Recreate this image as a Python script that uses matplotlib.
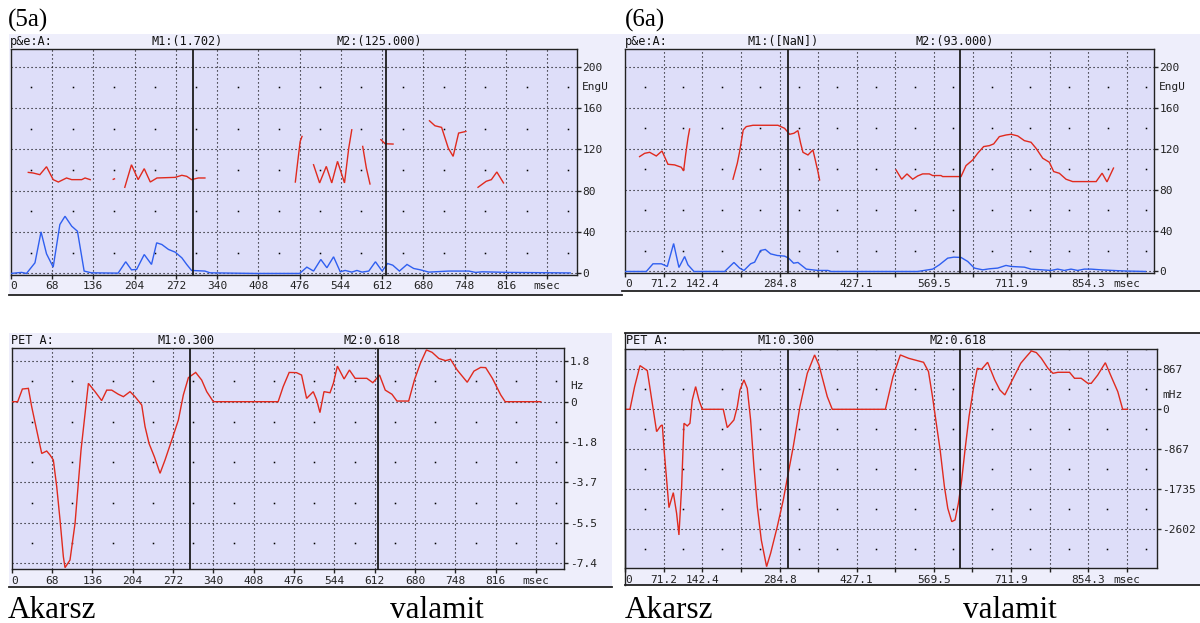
import numpy as np
import matplotlib
matplotlib.use("Agg")
import matplotlib.pyplot as plt
from matplotlib.patches import Rectangle
from matplotlib.lines import Line2D

nan = float('nan')

# ---------------- data (msec / value) ----------------
# Panel 5a top: pitch (red, EngU) and energy (blue)
p1_red_x = [29, 37, 48, 59, 70, 78.5, 92, 100.5, 117, 122.5, 131, nan,
            169, 171, nan,
            188, 199, 210, 220, 230, 241, 271, 282, 290, 298, 309, 320, nan,
            469, 473, 477, 480, nan,
            499, 509, 520, 529, 538.5, 550, 557, 562, nan,
            580, 586, 592, nan,
            610, 617, 630, nan,
            690, 699, 710, 721, 729, 738, 750, nan,
            770, 783.5, 792, 801, 812]
p1_red_y = [97.7, 97.1, 95.5, 103.2, 90.7, 88.4, 92.3, 90.7, 90.7, 92.3, 90.7, nan,
            91, 91.5, nan,
            83.3, 105.1, 90.7, 101.3, 88.4, 92.3, 92.9, 94.9, 93.9, 90.7, 92.3, 92.3, nan,
            88.4, 108.4, 127.7, 132.5, nan,
            105.1, 87.5, 103.5, 87.5, 108.4, 87.5, 121.2, 138.9, nan,
            122.8, 101.9, 86.5, nan,
            129.3, 125.4, 125.1, nan,
            147.6, 142.8, 141.2, 121.2, 113.2, 135.7, 137.3, nan,
            83.3, 89.1, 90.7, 98.1, 87.5]
p1_blue_x = [0, 18, 26, 40, 50, 59, 70, 81, 89.5, 100.5, 110, 121, 133, 177, 189.5,
             199, 207.5, 220, 232, 240.5, 249, 260, 271, 282, 290, 298, 320, 328.5,
             403, 476, 488, 499, 511, 521, 532, 543, 551, 562, 570.5, 579, 590, 601,
             612, 621, 629.5, 640.5, 653, 664, 675, 689, 722, 755, 766, 777, 821, 922]
p1_blue_y = [0, 1, 0, 10.3, 40.2, 19, 6.1, 47.3, 55.3, 45.7, 40.8, 2.3, 0.6, 0.3, 11.3,
             3.5, 3.9, 18.3, 8.7, 29.6, 28, 23.2, 20.6, 15.1, 8.7, 2.9, 2.3, 0.6,
             0, 0, 6.1, 2.3, 13.5, 5.5, 16.1, 1.6, 2.9, 1.3, 2.9, 1.3, 2.3, 11.3,
             2.3, 9.6, 8, 2.3, 8.7, 4.8, 3.5, 1.3, 2.3, 2.3, 1, 1.6, 1, 0.5]

# Panel 6a top
p2_red_x = [26.4, 35.7, 44.9, 57.2, 67.7, 78.7, 91, 103.3, 107.6, 111.3, 115.6, 118.7, nan,
            198.7, 206.7, 211, 217.6, 223.3, 235.6, 281.7, 294, 303.3, 311.2, 318.6, 323.6,
            327.9, 337.1, 346.3, 350.6, 355.5, 358.6, nan,
            499.6, 510.1, 519.9, 530.4, 539.6, 548.8, 561.1, 567.3, 582.7, 585.7, 619.6,
            628.8, 641.1, 650.3, 661.4, 671.9, 679.9, 690.3, 702.6, 712, 724.2, 736.5,
            748.8, 758.1, 770.4, 782.6, 790.6, 801.1, 813.4, 825.7, 869, 880, 889, 901]
p2_red_y = [112.2, 115.4, 116.4, 112.8, 117.7, 104.7, 104.1, 101.8, 98.2, 113.8, 130.1, 139.2, nan,
            90.1, 105.7, 117.1, 138.2, 141.5, 142.8, 142.8, 139.8, 134, 135, 137.6, 125.2,
            116.4, 113.8, 118.7, 109, 97.6, 89.4, nan,
            99.2, 90.1, 95.3, 90.1, 93.3, 95.3, 95.3, 93.7, 93.7, 92.7, 92.7,
            103.4, 108.9, 115.4, 122, 122.9, 124.6, 131.7, 133.3, 134, 132.4, 127.8,
            126.2, 120.3, 110.6, 106.7, 97.6, 95.9, 90.1, 87.8, 87.8, 96, 87.5, 101]
p2_blue_x = [0, 38.8, 51.1, 66.4, 77.5, 89.2, 99, 109.5, 115.6, 126.7, 183.3, 200.5, 211,
             219, 231.3, 238.7, 249.7, 258.4, 268.2, 280.5, 294, 301.4, 310.6, 318.6, 334,
             355.5, 374, 380, 539.6, 567.3, 579.6, 595, 606.3, 619.6, 631.9, 644.2, 659.6,
             671.9, 687.3, 702.6, 712, 736.5, 748.8, 785.7, 798, 810.3, 822.6, 834.9,
             847.2, 859.5, 880, 900, 920, 960]
p2_blue_y = [0, 0, 7.5, 7.5, 4.9, 27.3, 3.9, 14.6, 6.5, 0, 0, 8.8, 3.3,
             1, 7.5, 9.1, 20.5, 21.5, 17.2, 15.6, 15, 13, 8.1, 8.8, 2.3,
             1, 1, 0, 0, 2.3, 6.5, 13, 14, 13.7, 9.8, 3.3, 1.6,
             2.6, 3.3, 5.9, 4.9, 4.2, 2.3, 1, 2.3, 1, 2.3, 1,
             2.3, 2.3, 1.5, 1, 0.5, 0]

# Panel 5a bottom: PET (Hz)
p3_x = [0, 10.1, 18, 28.1, 33.7, 42.1, 50.6, 59, 64.6, 70.2, 75.9, 81.5, 87.1, 89.9, 98.3,
        106.8, 116.9, 129.3, 140.5, 151.7, 160.2, 168.6, 179.8, 188.3, 199.5, 207.9, 219.2,
        224.8, 231.5, 240.5, 250.1, 258.5, 269.8, 281, 289.4, 297.9, 310.2, 320.3, 328.8,
        340, 449.2, 457.7, 467.8, 480.2, 488.7, 497.2, 508.4, 514.1, 519.7, 526.5, 536.7,
        542.3, 549.1, 560.4, 569.4, 579, 598.7, 608.9, 620.2, 629.8, 641.1, 649.5, 669.3,
        678.9, 689, 699.2, 708.8, 720.1, 731.4, 739.8, 751.1, 768, 779.3, 790.6, 799.1,
        810.4, 824.5, 832, 892]
p3_y = [0, 0, 0.58, 0.61, -0.23, -1.30, -2.37, -2.26, -2.44, -2.67, -3.89, -5.42, -7.10, -7.60, -7.25,
        -5.57, -2.21, 0.84, 0.46, 0.05, 0.53, 0.53, 0.34, 0.23, 0.46, 0.23, -0.15,
        -1.14, -1.91, -2.52, -3.28, -2.67, -1.76, -0.84, 0.31, 1.10, 1.34, 0.99, 0.46,
        0, 0, 0.69, 1.34, 1.33, 1.22, 0.15, 0.46, 0.08, -0.50, 0.46, 0.41,
        0.84, 1.63, 1.04, 1.45, 1.07, 1.07, 0.87, 1.22, 0.53, 0.34, 0.03, 0.03,
        0.99, 1.76, 2.37, 2.26, 1.98, 1.88, 1.94, 1.45, 0.89, 1.40, 1.57, 1.56,
        1.07, 0.31, 0, 0]

# Panel 6a bottom: PET (mHz)
p4_x = [0, 8.6, 17.2, 27.1, 34.4, 40.6, 49.8, 57.8, 65.2, 68.3, 71.4, 76.3, 80.6, 88.6, 94.7,
        99, 104, 108.3, 114.4, 119.3, 123.6, 129.8, 135.9, 142.1, 180.8, 188.2, 200.5, 206.7,
        211.6, 219, 225.1, 231.3, 237.4, 243.6, 251, 260.8, 268.2, 280.5, 291.6, 299, 310,
        322.3, 335.9, 349.4, 357.4, 372.8, 382, 480, 494.1, 507.6, 522.9, 550.5, 559.6, 567,
        573.1, 581.1, 589, 595.2, 602.5, 608.6, 614.8, 620.9, 627, 634.4, 643.6, 649.7,
        657.6, 668.7, 681.9, 691.3, 700.5, 712.8, 729.9, 740.3, 749.5, 758.7, 767.9, 780.1,
        789.3, 798.5, 819.9, 829.1, 841.4, 853.6, 860, 872, 886, 897, 909, 918, 927]
p4_y = [0, 0, 493, 949, 891, 840, 130, -485, -362, -340, -848, -1536, -2137, -1811, -2260,
        -2731, -1681, -304, -362, -304, 203, 493, 203, 0, 0, -398, -232, 58,
        420, 638, 456, -232, -1246, -2115, -2840, -3419, -3130, -2550, -1970, -1500, -811,
        58, 782, 1181, 964, 275, 0, 0, 710, 1181, 1108, 1021, 819, 275,
        -232, -884, -1681, -2152, -2441, -2405, -2043, -1536, -884, -159, 529, 891,
        869, 1021, 638, 420, 312, 601, 1000, 1145, 1268, 1232, 1108, 891,
        782, 804, 804, 674, 674, 565, 564, 745, 1012, 708, 383, 0, 0]

markers_ms = [300, 618]

x_labels_a = ['0', '68', '136', '204', '272', '340', '408', '476', '544', '612',
              '680', '748', '816', 'msec']
x_labels_b = ['0', '71.2', '142.4', '', '284.8', '', '427.1', '', '569.5', '',
              '711.9', '', '854.3', 'msec']
y_ticks_eng = [0, 40, 80, 120, 160, 200]
y_labels_eng = ['0', '40', '80', '120', '160', '200']
y_ticks_hz = [1.85, 0, -1.85, -3.7, -5.55, -7.4]
y_labels_hz = ['1.8', '0', '-1.8', '-3.7', '-5.5', '-7.4']
y_ticks_mhz = [867.5, 0, -867.5, -1735, -2602.5]
y_labels_mhz = ['867', '0', '-867', '-1735', '-2602']

# ---------------- styling ----------------
W, H = 1200, 623
PLOT_BG = '#DEDEF9'
FRAME_BG = '#EEEEFB'
RED = '#E02A1E'
BLUE = '#2F5FF0'
MONO = 'DejaVu Sans Mono'
SERIF = 'Liberation Serif'

fig = plt.figure(figsize=(12, 6.23), dpi=100)
fig.patch.set_facecolor('white')


def fx(px):
    return px / W


def fy(py):
    return 1 - py / H


def frame(x0, y0, x1, y1):
    fig.patches.append(Rectangle((fx(x0), fy(y1)), (x1 - x0) / W, (y1 - y0) / H,
                                 transform=fig.transFigure, facecolor=FRAME_BG,
                                 edgecolor='none', zorder=-10))


def hline(x0, x1, y, lw=1.3):
    fig.add_artist(Line2D([fx(x0), fx(x1)], [fy(y), fy(y)], transform=fig.transFigure,
                          color='#222222', lw=lw, zorder=5))


def vline(x, y0, y1, lw=1.0):
    fig.add_artist(Line2D([fx(x), fx(x)], [fy(y0), fy(y1)], transform=fig.transFigure,
                          color='#222222', lw=lw, zorder=5))


def panel(box, xlim, ylim, xstep, xlabels, yticks, ylabels, ystep, unit, unit_y,
          series, header, header_x, header_y):
    l, t, r, b = box
    ax = fig.add_axes([fx(l), fy(b), (r - l) / W, (b - t) / H])
    ax.set_zorder(2)
    ax.set_facecolor(PLOT_BG)
    ax.set_xlim(*xlim)
    ax.set_ylim(*ylim)
    for s in ax.spines.values():
        s.set_color('#222222')
        s.set_linewidth(1.0)
    # dotted grid
    xt = [k * xstep for k in range(len(xlabels))]
    for xv in xt[1:]:
        ax.axvline(xv, color='black', lw=0.8, ls=(0, (1, 2.6)), zorder=1)
    for yv in yticks:
        if ylim[0] < yv < ylim[1]:
            ax.axhline(yv, color='black', lw=0.8, ls=(0, (1, 2.6)), zorder=1)
    # mid-cell dots
    mx = np.arange(xstep / 2, xlim[1], xstep)
    k0 = np.floor(ylim[0] / ystep)
    my = np.array([(k + 0.5) * ystep for k in np.arange(k0, ylim[1] / ystep + 1)])
    my = my[(my > ylim[0]) & (my < ylim[1])]
    gx, gy = np.meshgrid(mx, my)
    ax.plot(gx.ravel(), gy.ravel(), ls='none', marker='s', ms=1.1, mew=0,
            color='black', zorder=1)
    # data
    for xs, ys, c in series:
        ax.plot(xs, ys, color=c, lw=1.0, zorder=3, solid_joinstyle='miter')
    for m in markers_ms:
        ax.axvline(m, color='#1c1c1c', lw=1.3, zorder=4)
    # ticks
    ax.set_xticks(xt)
    labs = ax.set_xticklabels(xlabels, fontfamily=MONO, fontsize=8, color='#222222')
    labs[0].set_horizontalalignment('left')
    ax.tick_params(axis='x', direction='out', length=3, width=1, pad=1.5,
                   color='#222222')
    ax.yaxis.tick_right()
    ax.set_yticks(yticks)
    ax.set_yticklabels(ylabels, fontfamily=MONO, fontsize=8, color='#222222')
    ax.tick_params(axis='y', direction='out', length=3, width=1, pad=1.0,
                   color='#222222')
    ax.annotate(unit, xy=(1, unit_y), xycoords=('axes fraction', 'data'),
                xytext=(4.0, 0), textcoords='offset points', ha='left', va='center',
                fontfamily=MONO, fontsize=8, color='#222222', annotation_clip=False)
    for txt, hx in zip(header, header_x):
        fig.text(fx(hx), fy(header_y), txt, fontfamily=MONO, fontsize=8.6,
                 color='#111111', ha='left', va='center')
    return ax


# frames
frame(9, 34, 622, 295)
frame(622, 34, 1200, 291)
frame(9, 333, 612, 587)
frame(625, 333, 1200, 585)

panel((10.7, 49, 576.7, 275), (0, 932.6), (-1.5, 217), 68, x_labels_a,
      y_ticks_eng, y_labels_eng, 40, 'EngU', 180,
      [(p1_blue_x, p1_blue_y, BLUE), (p1_red_x, p1_red_y, RED)],
      ['p&e:A:', 'M1:(1.702)', 'M2:(125.000)'], [10, 151, 336], 41.5)

panel((625.3, 49, 1153.8, 272.7), (0, 975.4), (-1.2, 217.3), 71.2, x_labels_b,
      y_ticks_eng, y_labels_eng, 40, 'EngU', 180,
      [(p2_blue_x, p2_blue_y, BLUE), (p2_red_x, p2_red_y, RED)],
      ['p&e:A:', 'M1:([NaN])', 'M2:(93.000)'], [625, 747, 916], 41.5)

panel((11.7, 348.3, 564.5, 569.3), (0, 932), (-7.675, 2.445), 68, x_labels_a,
      y_ticks_hz, y_labels_hz, 1.85, 'Hz', 0.7,
      [(p3_x, p3_y, RED)],
      ['PET A:', 'M1:0.300', 'M2:0.618'], [10.7, 157, 344], 340.5)

panel((625.3, 349, 1156.8, 568.3), (0, 981), (-3455, 1310), 71.2, x_labels_b,
      y_ticks_mhz, y_labels_mhz, 867.5, 'mHz', 311,
      [(p4_x, p4_y, RED)],
      ['PET A:', 'M1:0.300', 'M2:0.618'], [626, 757, 930], 341)

# panel borders / bottom lines
hline(9, 622, 295)
hline(622, 1200, 291)
hline(9, 612, 587)
hline(625, 1200, 585)
hline(625, 1200, 333)
vline(625, 333, 585)

# captions
fig.text(fx(8), fy(27), '(5a)', fontfamily=SERIF, fontsize=18, ha='left', va='baseline')
fig.text(fx(625), fy(27), '(6a)', fontfamily=SERIF, fontsize=18, ha='left', va='baseline')
for xx, word in [(8, 'Akarsz'), (390, 'valamit'), (625, 'Akarsz'), (963, 'valamit')]:
    fig.text(fx(xx), fy(618), word, fontfamily=SERIF, fontsize=22.5, ha='left',
             va='baseline')

fig.savefig('out.png', dpi=100, facecolor='white')
